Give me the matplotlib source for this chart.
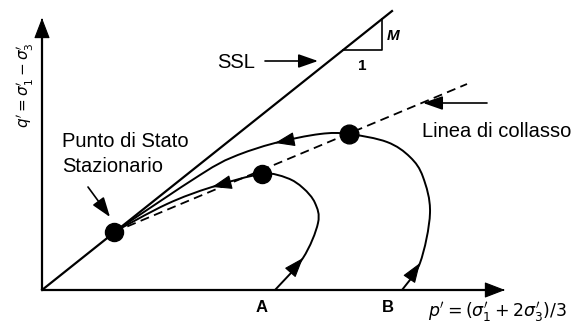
import numpy as np
import matplotlib
matplotlib.use("Agg")
import matplotlib.pyplot as plt
from matplotlib.path import Path
from matplotlib.patches import PathPatch

plt.rcParams['font.family'] = ['Liberation Sans', 'DejaVu Sans']
plt.rcParams['mathtext.fontset'] = 'dejavusans'

# --- data (p', q' in drawing units) ---------------------------------
M = 0.797                      # slope of the steady state line
ssl_p_end = 350.0
ss_point = (72.0, 58.0)        # steady state point on the SSL
collapse_p = [72.0, 425.0]
collapse_q = [58.0, 206.0]

# undrained stress path from A
path_a_p = [233, 261, 276, 273, 261, 245, 220, 170, 125, 72]
path_a_q = [0, 32, 67, 87, 102, 112, 116, 103, 86, 58]
peak_a = (220.0, 116.0)

# undrained stress path from B
path_b_p = [360, 378, 388, 381, 368, 345, 307, 278, 233, 191, 158, 72]
path_b_q = [0, 27, 77, 113, 133, 148, 156, 156, 147, 133, 115, 58]
peak_b = (307.0, 156.0)

p_axis_end = 463.0
q_axis_end = 272.0


def smooth_path(px, py):
    """Catmull-Rom curve through the given points, as cubic Bezier segments."""
    pts = np.column_stack([px, py]).astype(float)
    ext = np.vstack([pts[0], pts, pts[-1]])
    verts = [pts[0]]
    codes = [Path.MOVETO]
    for i in range(1, len(ext) - 2):
        p0, p1, p2, p3 = ext[i - 1], ext[i], ext[i + 1], ext[i + 2]
        c1 = p1 + (p2 - p0) / 6.0
        c2 = p2 - (p3 - p1) / 6.0
        verts += [c1, c2, p2]
        codes += [Path.CURVE4] * 3
    return Path(verts, codes)


def arrow_head(ax, tip, towards_from, size=1.25, width=0.45):
    tip = np.asarray(tip, float)
    d = tip - np.asarray(towards_from, float)
    d /= np.hypot(*d)
    ax.annotate('', xy=tip, xytext=tip - d * 2.0,
                arrowprops=dict(arrowstyle=f'-|>,head_length={size},head_width={width}',
                                color='black', lw=0.8, shrinkA=0, shrinkB=0,
                                mutation_scale=10))


def label_arrow(ax, tip, tail):
    ax.annotate('', xy=tip, xytext=tail,
                arrowprops=dict(arrowstyle='-|>,head_length=1.2,head_width=0.42',
                                color='black', lw=1.2, shrinkA=0, shrinkB=0,
                                mutation_scale=10))


fig = plt.figure(figsize=(5.76, 3.28), dpi=100)
ax = fig.add_axes([0, 0, 1, 1])
ax.set_xlim(-42, 534)
ax.set_ylim(-38, 290)
ax.axis('off')

# axes of the p'-q' plane
ax.plot([0, p_axis_end - 10], [0, 0], color='black', lw=1.6, solid_capstyle='butt')
ax.plot([0, 0], [0, q_axis_end - 10], color='black', lw=1.6, solid_capstyle='butt')
arrow_head(ax, (p_axis_end, 0), (0, 0), size=1.3, width=0.5)
arrow_head(ax, (0, q_axis_end), (0, 0), size=1.3, width=0.5)

# steady state line
ax.plot([0, ssl_p_end], [0, M * ssl_p_end], color='black', lw=1.6)

# slope triangle
tri_q = 240.0
tri_p0 = tri_q / M
tri_p1 = tri_p0 + 39.0
ax.plot([tri_p0, tri_p1, tri_p1], [tri_q, tri_q, M * tri_p1],
        color='black', lw=1.2)
ax.text(345, 250, 'M', fontsize=11, style='italic', fontweight='bold',
        ha='left', va='baseline')
ax.text(320, 220, '1', fontsize=11, fontweight='bold', ha='center', va='baseline')

# collapse line
ax.plot(collapse_p, collapse_q, color='black', lw=1.3, dashes=(5, 3))

# stress paths
for pp, qq in ((path_a_p, path_a_q), (path_b_p, path_b_q)):
    ax.add_patch(PathPatch(smooth_path(pp, qq), fill=False, lw=1.4,
                           edgecolor='black'))

# arrows along the stress paths
arrow_head(ax, (path_a_p[1], path_a_q[1]), (path_a_p[0], path_a_q[0]))
arrow_head(ax, (path_b_p[1], path_b_q[1]), (path_b_p[0], path_b_q[0]))
arrow_head(ax, (path_a_p[7], path_a_q[7]), (path_a_p[6], path_a_q[6]))
arrow_head(ax, (path_b_p[8], path_b_q[8]), (path_b_p[7], path_b_q[7]))

# peak and steady-state points
ax.plot(*ss_point, 'o', color='black', ms=13)
ax.plot(*peak_a, 'o', color='black', ms=13)
ax.plot(*peak_b, 'o', color='black', ms=13.5)

# labelling arrows
label_arrow(ax, (276, 229), (223, 229))
label_arrow(ax, (381, 187), (445, 187))
label_arrow(ax, (68, 73), (46, 103))

# text
fs = 14.5
ax.text(175, 222, 'SSL', fontsize=fs, ha='left', va='baseline')
ax.text(380, 153, 'Linea di collasso', fontsize=fs, ha='left', va='baseline')
ax.text(20, 143, 'Punto di Stato', fontsize=fs, ha='left', va='baseline')
ax.text(20, 118, 'Stazionario', fontsize=fs, ha='left', va='baseline')
ax.text(220, -22, 'A', fontsize=12, fontweight='bold', ha='center', va='baseline')
ax.text(346, -22, 'B', fontsize=12, fontweight='bold', ha='center', va='baseline')
ax.text(386, -26, r"$p' = (\sigma_1' + 2\sigma_3')/3$", fontsize=12.5,
        ha='left', va='baseline')
ax.text(-17, 205, r"$q' = \sigma_1' - \sigma_3'$", fontsize=11,
        rotation=90, ha='center', va='center', rotation_mode='anchor')

fig.savefig('out.png', dpi=100)
